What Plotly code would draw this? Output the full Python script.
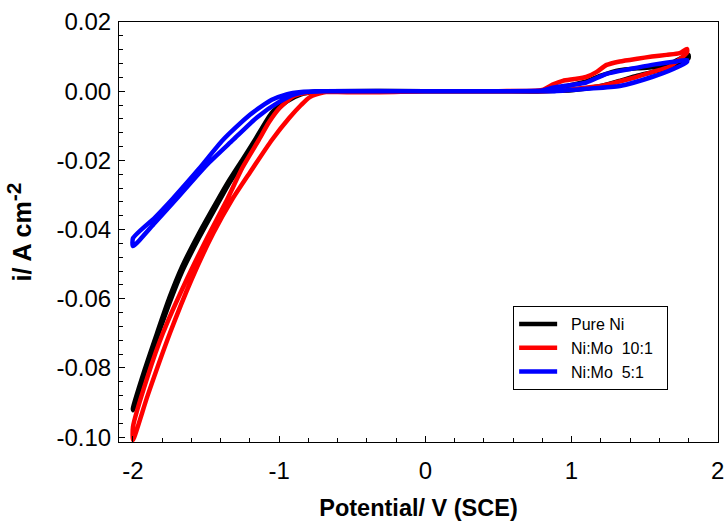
import plotly.graph_objects as go

# Pure Ni
ni_x = [0.0, -0.4, -0.65, -0.75, -0.85, -0.95, -1.05, -1.166, -1.25, -1.35, -1.42, -1.55, -1.665, -1.75, -1.836, -1.92, -2.0,
        -2.0, -1.92, -1.836, -1.75, -1.665, -1.55, -1.42, -1.35, -1.25, -1.15, -1.05, -0.95, -0.85, -0.75, -0.65, 0.0, 0.5, 0.8,
        0.9, 1.0, 1.1, 1.2, 1.33, 1.45, 1.6, 1.7, 1.8,
        1.8, 1.7, 1.6, 1.45, 1.33, 1.2, 1.1, 1.0, 0.9, 0.8, 0.4, 0.0]
ni_y = [0.0, 0.0, 0.0, -0.0001, -0.0008, -0.0026, -0.0062, -0.0141, -0.0197, -0.0263, -0.0314, -0.0412, -0.0508, -0.0596, -0.0700, -0.0805, -0.0916,
        -0.0922, -0.0815, -0.0713, -0.0612, -0.0522, -0.0425, -0.0325, -0.0272, -0.0205, -0.0135, -0.0068, -0.0030, -0.0009, -0.0002, 0.0, 0.0, 0.0, 0.0,
        0.0008, 0.0018, 0.0028, 0.0045, 0.0061, 0.0066, 0.0071, 0.0085, 0.0105,
        0.0095, 0.0075, 0.0060, 0.0045, 0.0030, 0.0015, 0.0008, 0.0003, 0.0001, 0.0, 0.0, 0.0]

# Ni:Mo 10:1
r10_x = [0.0, -0.5, -0.7, -0.8, -0.9, -1.0, -1.07, -1.139, -1.25, -1.357, -1.5, -1.65, -1.795, -1.9, -2.0,
         -2.0, -1.9, -1.747, -1.6, -1.45, -1.323, -1.2, -1.05, -0.93, -0.85, -0.79, -0.7, -0.6, -0.4, 0.0, 0.5, 0.8,
         0.87, 0.94, 1.02, 1.1, 1.17, 1.24, 1.33, 1.45, 1.55, 1.65, 1.74, 1.79,
         1.79, 1.67, 1.55, 1.445, 1.3, 1.2, 1.1, 1.0, 0.9, 0.8, 0.4, 0.0]
r10_y = [0.0, -0.0003, -0.0002, -0.0004, -0.0014, -0.0050, -0.0090, -0.0141, -0.0220, -0.0314, -0.0430, -0.0560, -0.0699, -0.0825, -0.0970,
         -0.1008, -0.0880, -0.0699, -0.0545, -0.0410, -0.0314, -0.0235, -0.0141, -0.0077, -0.0040, -0.0017, -0.0004, 0.0, -0.0003, 0.0, 0.0, 0.0004,
         0.0019, 0.0030, 0.0035, 0.0041, 0.0055, 0.0076, 0.0086, 0.0094, 0.0100, 0.0105, 0.0110, 0.0122,
         0.0112, 0.0071, 0.0055, 0.0041, 0.0025, 0.0015, 0.0010, 0.0005, 0.0002, 0.0, 0.0, 0.0]

# Ni:Mo 5:1
r5_x = [0.0, -0.5, -0.75, -0.85, -0.95, -1.05, -1.2, -1.385, -1.55, -1.727, -1.85, -2.0,
        -2.0, -1.85, -1.7, -1.5, -1.316, -1.15, -1.0, -0.9, -0.8, -0.7, 0.0, 0.5, 0.8,
        0.87, 1.0, 1.1, 1.24, 1.4, 1.55, 1.7, 1.79,
        1.79, 1.7, 1.55, 1.33, 1.1, 0.87, 0.4, 0.0]
r5_y = [0.0, 0.0, 0.0, -0.0002, -0.0009, -0.0025, -0.0068, -0.0141, -0.0225, -0.0310, -0.0365, -0.0425,
        -0.0448, -0.0380, -0.0310, -0.0215, -0.0141, -0.0075, -0.0031, -0.0010, -0.0002, 0.0, 0.0, 0.0, 0.0002,
        0.0010, 0.0018, 0.0025, 0.0050, 0.0064, 0.0076, 0.0085, 0.0090,
        0.0085, 0.0065, 0.0041, 0.0015, 0.0007, 0.0, 0.0, 0.0]

names = ["\u00a0\u00a0Pure Ni", "\u00a0\u00a0Ni:Mo\u00a0 10:1\u00a0\u00a0", "\u00a0\u00a0Ni:Mo\u00a0 5:1"]
colors = ["#000000", "#ff0000", "#0000ff"]

x_tickvals = [-2, -1, 0, 1, 2]
x_ticktext = ["-2", "-1", "0", "1", "2"]
y_tickvals = [0.02, 0.0, -0.02, -0.04, -0.06, -0.08, -0.10]
y_ticktext = ["0.02", "0.00", "-0.02", "-0.04", "-0.06", "-0.08", "-0.10"]

FONT = "Arial, Liberation Sans, sans-serif"

fig = go.Figure()
for xs, ys, nm, c in zip([ni_x, r10_x, r5_x], [ni_y, r10_y, r5_y], names, colors):
    fig.add_trace(go.Scatter(x=xs, y=ys, mode="lines", name=nm,
                             line=dict(color=c, width=4.5, shape="spline", smoothing=0.6)))

fig.update_layout(
    template="none",
    width=725, height=521,
    margin=dict(l=119, r=7, t=22, b=79, autoexpand=False),
    paper_bgcolor="white", plot_bgcolor="white",
    font=dict(family=FONT, color="black"),
    showlegend=True,
    legend=dict(x=0.658, y=0.3238, xanchor="left", yanchor="top",
                bordercolor="black", borderwidth=1, bgcolor="white",
                itemwidth=38,
                font=dict(size=16, family=FONT), tracegroupgap=0),
    xaxis=dict(range=[-2.0957, 2.002], tickvals=x_tickvals, ticktext=x_ticktext,
               automargin=False,
               ticks="inside", ticklen=6, tickcolor="black",
               showline=True, linecolor="black", linewidth=1, mirror=True,
               showgrid=False, zeroline=False,
               tickfont=dict(size=24, family=FONT), ticklabelstandoff=7,
               minor=dict(dtick=0.2, tick0=0, ticks="inside", ticklen=4, tickcolor="black", showgrid=False),
               title=dict(text="<b>Potential/ V (SCE)</b>", font=dict(size=23.5, family=FONT), standoff=26)),
    yaxis=dict(range=[-0.1014, 0.02], tickvals=y_tickvals, ticktext=y_ticktext,
               automargin=False,
               ticks="inside", ticklen=6, tickcolor="black",
               showline=True, linecolor="black", linewidth=1, mirror=True,
               showgrid=False, zeroline=False,
               tickfont=dict(size=24, family=FONT), ticklabelstandoff=2,
               minor=dict(dtick=0.004, tick0=0, ticks="inside", ticklen=4, tickcolor="black", showgrid=False),
               title=dict(text="<b>i/ A cm<sup><span style='font-size:21px'>-2</span></sup></b>",
                          font=dict(size=25, family=FONT), standoff=17)),
)

fig.write_html("out.html",
               config={"displayModeBar": False},
               post_script="document.body.style.margin='0';document.body.style.overflow='hidden';")
